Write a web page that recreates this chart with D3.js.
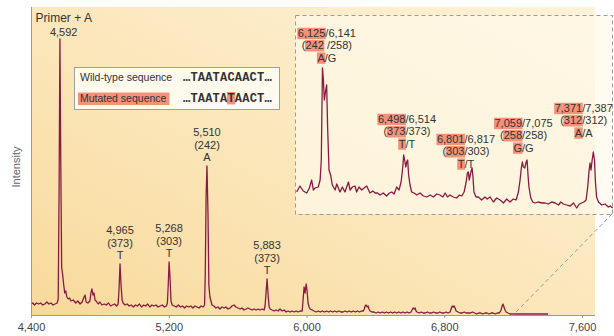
<!DOCTYPE html>
<html><head><meta charset="utf-8">
<script src="https://cdn.jsdelivr.net/npm/d3@7"></script>
<style>
body{margin:0;background:#fff;}
svg{display:block;font-family:"Liberation Sans",Arial,Helvetica,sans-serif;}
</style>
</head><body>
<svg id="chart" width="614" height="336"></svg>
<script>
// ---------- data ----------
const xDomain = [4400, 7600];
const xTicks = [4400, 5200, 6000, 6800, 7600];
const xTickLabels = ["4,400", "5,200", "6,000", "6,800", "7,600"];
const yLabel = "Intensity";

// main spectrum: [mass axis position, intensity]
const mainTrace = [[4400,11],[4410,12],[4420,10],[4432,12],[4444,11],[4456,12],[4468,10],[4480,11],[4492,13],[4504,11],[4516,12],[4528,10],[4540,11],[4552,12],[4558,16],[4563,120],[4568,276],[4573,150],[4578,48],[4584,40],[4590,30],[4596,22],[4602,24],[4608,18],[4616,16],[4624,17],[4632,14],[4645,15],[4660,12],[4672,14],[4685,11],[4697,13],[4708,18],[4714,20],[4720,13],[4730,12],[4742,14],[4748,22],[4754,26],[4760,20],[4766,22],[4772,15],[4778,14],[4790,11],[4800,13],[4812,10],[4825,11],[4837,10],[4850,12],[4862,9],[4873,10],[4885,11],[4897,9],[4906,11],[4911,25],[4917,51],[4923,30],[4929,15],[4935,12],[4946,10],[4958,11],[4970,9],[4982,10],[4994,8],[5006,10],[5018,9],[5030,11],[5042,8],[5054,10],[5066,9],[5078,11],[5090,8],[5102,10],[5114,9],[5126,10],[5138,8],[5150,9],[5162,10],[5174,8],[5186,9],[5192,12],[5197,30],[5202,53],[5208,35],[5213,14],[5220,10],[5232,9],[5244,8],[5256,10],[5268,8],[5280,9],[5292,7],[5304,9],[5316,8],[5328,9],[5340,7],[5352,9],[5364,8],[5376,7],[5388,9],[5400,8],[5408,10],[5412,40],[5417,120],[5422,149],[5428,100],[5433,30],[5439,18],[5445,14],[5451,10],[5462,9],[5474,7],[5486,8],[5497,6],[5509,8],[5521,7],[5532,8],[5544,6],[5556,7],[5567,9],[5579,10],[5590,8],[5602,7],[5614,6],[5625,7],[5637,5],[5649,6],[5660,7],[5672,6],[5684,5],[5695,6],[5707,5],[5719,6],[5730,5],[5742,6],[5754,5],[5760,10],[5766,25],[5771,36],[5777,20],[5783,8],[5789,6],[5800,5],[5812,4],[5823,5],[5835,4],[5846,6],[5858,4],[5870,5],[5881,3],[5893,4],[5905,3],[5916,4],[5928,3],[5940,4],[5951,3],[5963,4],[5975,4],[5980,15],[5986,28],[5992,22],[5998,31],[6003,25],[6009,12],[6015,8],[6021,6],[6033,5],[6044,4],[6056,3],[6068,4],[6080,3],[6092,4],[6104,3],[6116,4],[6128,3],[6140,4],[6152,3],[6164,4],[6176,3],[6188,4],[6200,3],[6212,3],[6224,4],[6236,3],[6248,4],[6260,3],[6272,4],[6284,3],[6296,4],[6308,3],[6320,4],[6330,4],[6336,6],[6340,9],[6346,10],[6352,8],[6358,9],[6363,6],[6369,4],[6380,3],[6392,3],[6404,2],[6416,3],[6428,2],[6440,3],[6452,2],[6464,3],[6476,2],[6488,3],[6500,2],[6512,3],[6524,2],[6536,3],[6548,2],[6560,3],[6572,2],[6584,3],[6596,2],[6607,3],[6613,5],[6619,7],[6625,6],[6631,7],[6636,4],[6642,3],[6654,2],[6666,3],[6678,2],[6690,2],[6702,3],[6714,2],[6726,2],[6738,3],[6750,2],[6762,2],[6774,3],[6786,2],[6798,2],[6810,3],[6822,2],[6834,3],[6840,6],[6846,9],[6852,8],[6857,9],[6863,7],[6869,4],[6880,3],[6892,2],[6904,2],[6916,3],[6928,2],[6940,2],[6952,2],[6964,3],[6976,2],[6988,1],[7000,2],[7012,2],[7024,1],[7036,2],[7048,2],[7060,1],[7072,2],[7084,2],[7096,1],[7108,2],[7118,2],[7124,3],[7130,5],[7136,9],[7141,11],[7147,8],[7153,5],[7159,3],[7170,2],[7182,1],[7200,1],[7230,1],[7260,1],[7300,1],[7340,1],[7380,1],[7403,1]];

// magnified inset spectrum
const insetDomain = [5884, 7238];
const zoomLineMass = 7200;
const insetTrace = [[5887,22],[5901,28],[5915,23],[5930,21],[5941,26],[5951,34],[5958,24],[5965,26],[5979,27],[5987,34],[5992,54],[5997,146],[6001,134],[6005,114],[6011,124],[6015,129],[6019,87],[6025,44],[6032,39],[6039,29],[6051,24],[6058,30],[6065,26],[6072,22],[6082,27],[6093,22],[6108,32],[6115,24],[6125,27],[6136,28],[6143,22],[6153,27],[6165,24],[6175,26],[6186,28],[6200,21],[6212,23],[6222,21],[6232,21],[6243,19],[6257,21],[6271,18],[6283,21],[6293,22],[6303,20],[6314,27],[6324,24],[6333,32],[6340,47],[6344,59],[6348,54],[6353,47],[6357,52],[6361,54],[6365,39],[6371,29],[6378,22],[6388,21],[6400,19],[6414,21],[6428,18],[6442,17],[6457,19],[6471,17],[6485,20],[6499,19],[6511,17],[6521,21],[6531,17],[6542,19],[6556,17],[6570,16],[6582,19],[6592,18],[6602,22],[6610,31],[6616,41],[6620,42],[6624,34],[6630,41],[6636,46],[6640,37],[6644,22],[6653,17],[6663,17],[6677,14],[6691,17],[6701,15],[6713,17],[6727,12],[6741,16],[6756,14],[6770,11],[6784,15],[6798,12],[6812,15],[6824,14],[6834,22],[6841,34],[6847,47],[6851,52],[6855,47],[6861,46],[6867,52],[6871,54],[6875,39],[6879,27],[6887,16],[6895,12],[6905,11],[6919,12],[6934,11],[6948,11],[6962,10],[6976,12],[6991,11],[7005,9],[7015,12],[7026,10],[7040,9],[7055,8],[7069,11],[7083,6],[7094,10],[7104,11],[7114,12],[7123,14],[7130,27],[7136,44],[7140,51],[7144,44],[7149,54],[7154,62],[7159,54],[7163,32],[7168,17],[7176,12],[7190,9],[7204,10],[7218,7],[7226,8],[7237,6]];

// main peak labels: [peak mass, peak intensity, lines]
const mainLabels = [
  {mass: 4590, top: 276, lines: ["Primer + A", "4,592"]},
  {mass: 4917, top: 51,  lines: ["4,965", "(373)", "T"]},
  {mass: 5202, top: 53,  lines: ["5,268", "(303)", "T"]},
  {mass: 5422, top: 149, lines: ["5,510", "(242)", "A"]},
  {mass: 5771, top: 36,  lines: ["5,883", "(373)", "T"]}
];

// inset labels: segments [text, highlighted]
const insetLabels = [
  {mass: 6016, level: 177, lines: [[["6,125",1],["/6,141",0]], [["(",0],["242",1],[" /258)",0]], [["A",1],["/G",0]]]},
  {mass: 6358, level: 91,  lines: [[["6,498",1],["/6,514",0]], [["(",0],["373",1],["/373)",0]], [["T",1],["/T",0]]]},
  {mass: 6610, level: 71,  lines: [[["6,801",1],["/6,817",0]], [["(",0],["303",1],["/303)",0]], [["T",1],["/T",0]]]},
  {mass: 6856, level: 87,  lines: [[["7,059",1],["/7,075",0]], [["(",0],["258",1],["/258)",0]], [["G",1],["/G",0]]]},
  {mass: 7113, level: 102, lines: [[["7,371",1],["/7,387",0]], [["(",0],["312",1],["/312)",0]], [["A",1],["/A",0]]]}
];

const legendRows = [
  {name: "Wild-type sequence", hl: false, seq: [["…TAATACAACT…",0]]},
  {name: "Mutated sequence",   hl: true,  seq: [["…TAATA",0],["T",1],["AACT…",0]]}
];

// ---------- drawing ----------
const svg = d3.select("#chart");
const HL = "#f3917a", TRACE = "#8a1a42", TXT = "#333";
const plot = {left: 31, right: 595, top: 7, bottom: 315};
const inset = {left: 295, right: 612, top: 15, bottom: 214};

const x = d3.scaleLinear().domain(xDomain).range([31, 582]);
const y = d3.scaleLinear().domain([0, 300]).range([plot.bottom, plot.bottom - 300]);
const xi = d3.scaleLinear().domain(insetDomain).range([inset.left + 1, inset.right + 1]);
const yi = d3.scaleLinear().domain([0, 200]).range([inset.bottom, inset.bottom - 200]);

const defs = svg.append("defs");
const grad = defs.append("linearGradient").attr("id", "bg")
  .attr("x1", 0).attr("y1", 1).attr("x2", 1).attr("y2", 0);
grad.append("stop").attr("offset", 0).attr("stop-color", "#f8d99b");
grad.append("stop").attr("offset", 0.45).attr("stop-color", "#fbe6b9");
grad.append("stop").attr("offset", 1).attr("stop-color", "#fdf2d8");

svg.append("rect").attr("x", plot.left).attr("y", plot.top)
  .attr("width", plot.right - plot.left).attr("height", plot.bottom - plot.top)
  .attr("fill", "url(#bg)");

// inset panel
svg.append("rect").attr("x", inset.left).attr("y", inset.top)
  .attr("width", inset.right - inset.left).attr("height", inset.bottom - inset.top)
  .attr("fill", "#fffaea").attr("fill-opacity", 0.7);

// main trace
const line = d3.line().x(d => x(d[0])).y(d => y(d[1])).curve(d3.curveLinear);
svg.append("path").datum(mainTrace).attr("d", line)
  .attr("fill", "none").attr("stroke", TRACE).attr("stroke-width", 1.3).attr("stroke-linejoin", "round");

// inset border & zoom line
svg.append("rect").attr("x", inset.left + 0.5).attr("y", inset.top + 0.5)
  .attr("width", inset.right - inset.left).attr("height", inset.bottom - inset.top)
  .attr("fill", "none").attr("stroke", "#9a9a9a").attr("stroke-width", 1).attr("stroke-dasharray", "4,3");
svg.append("line").attr("x1", inset.right).attr("y1", inset.bottom)
  .attr("x2", x(zoomLineMass)).attr("y2", plot.bottom)
  .attr("stroke", "#9a9a9a").attr("stroke-width", 1).attr("stroke-dasharray", "4,3");

// inset trace
const iline = d3.line().x(d => xi(d[0])).y(d => yi(d[1]));
svg.append("path").datum(insetTrace).attr("d", iline)
  .attr("fill", "none").attr("stroke", TRACE).attr("stroke-width", 1.3).attr("stroke-linejoin", "round");

// segmented text with highlights
function segText(g, segs, px, py, anchor, size, family, weight, spacing) {
  const t = g.append("text").attr("x", px).attr("y", py).attr("text-anchor", anchor)
    .attr("font-size", size).attr("fill", TXT);
  if (family) t.attr("font-family", family);
  if (weight) t.attr("font-weight", weight);
  if (spacing) t.attr("letter-spacing", spacing);
  segs.forEach(s => t.append("tspan").text(s[0]));
  const node = t.node();
  let idx = 0;
  segs.forEach(s => {
    const n = s[0].length;
    if (s[1]) {
      const x0 = node.getStartPositionOfChar(idx).x;
      const x1 = node.getEndPositionOfChar(idx + n - 1).x;
      g.insert("rect", () => node).attr("x", x0 - 0.5).attr("y", py - size * 0.84)
        .attr("width", x1 - x0 + 1).attr("height", size * 1.04).attr("fill", HL);
    }
    idx += n;
  });
  return t;
}

// main labels
const lg = svg.append("g");
mainLabels.forEach(L => {
  const n = L.lines.length;
  const bottomBase = y(L.top) - (n === 2 ? 3 : 5);
  L.lines.forEach((s, i) => {
    const size = (n === 2 && i === 0) ? 12 : 11;
    lg.append("text").attr("x", x(L.mass)).attr("y", bottomBase - (n - 1 - i) * (n === 2 ? 14 : 12.5))
      .attr("text-anchor", "middle").attr("font-size", size).attr("fill", TXT).text(s);
  });
});

// inset labels
insetLabels.forEach(L => {
  L.lines.forEach((segs, i) => {
    segText(lg, segs, xi(L.mass), yi(L.level) + i * 12.3, "middle", 11);
  });
});

// legend
const leg = svg.append("g");
leg.append("rect").attr("x", 74.5).attr("y", 67.5).attr("width", 205).attr("height", 42)
  .attr("fill", "#fefaee").attr("stroke", "#a0a0a0").attr("stroke-width", 1);
legendRows.forEach((r, i) => {
  const by = 81 + i * 21;
  if (r.hl) {
    const tt = leg.append("text").attr("x", 80).attr("y", by).attr("font-size", 10.5).text(r.name);
    const w = tt.node().getComputedTextLength();
    leg.insert("rect", () => tt.node()).attr("x", 78).attr("y", by - 9.5).attr("width", w + 5).attr("height", 12.5).attr("fill", HL);
    tt.attr("fill", TXT);
  } else {
    leg.append("text").attr("x", 80).attr("y", by).attr("font-size", 10.5).attr("fill", TXT).text(r.name);
  }
  segText(leg, r.seq, 183, by, "start", 12, "'Liberation Mono','Courier New',monospace", "bold", 0.2);
});

// axes
const ax = svg.append("g").attr("transform", `translate(0,${plot.bottom})`)
  .call(d3.axisBottom(x).tickValues(xTicks).tickFormat((d, i) => xTickLabels[i]).tickSize(3).tickSizeOuter(0));
ax.select(".domain").remove();
ax.selectAll(".tick line").attr("stroke", "#9a9a9a");
ax.selectAll(".tick text").attr("font-size", 11).attr("fill", "#444")
  .attr("font-family", "'Liberation Sans',Arial,sans-serif").attr("dy", "0.95em");
svg.append("line").attr("x1", plot.left).attr("x2", plot.right).attr("y1", plot.bottom + 0.5).attr("y2", plot.bottom + 0.5)
  .attr("stroke", "#9a9a9a");
const ay = svg.append("g").attr("transform", `translate(${plot.left},0)`)
  .call(d3.axisLeft(y).tickValues([]).tickSizeOuter(0));
ay.select(".domain").attr("stroke", "#9a9a9a").attr("d", `M0.5,${plot.top}V${plot.bottom}`);

svg.append("text").attr("transform", `translate(20,${(plot.top + plot.bottom) / 2 + 6}) rotate(-90)`)
  .attr("text-anchor", "middle").attr("font-size", 11).attr("fill", "#666").text(yLabel);
</script>
</body></html>
